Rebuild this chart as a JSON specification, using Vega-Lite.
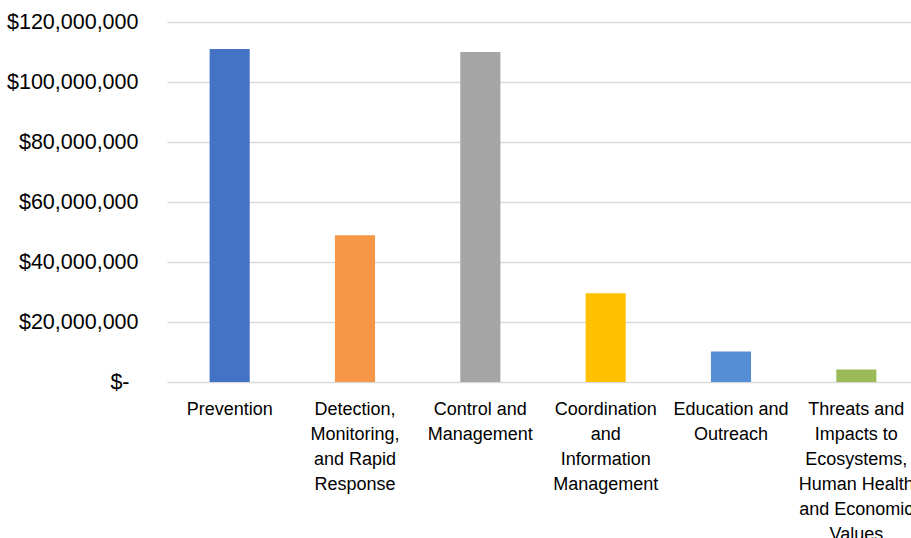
{
  "$schema": "https://vega.github.io/schema/vega-lite/v6.json",
  "autosize": "none",
  "width": 752,
  "height": 360,
  "padding": {"left": 167, "top": 22, "right": -8, "bottom": 156},
  "background": "#ffffff",
  "config": {"view": {"stroke": null}, "font": "Liberation Sans"},
  "data": {
    "values": [
      {"category": "Prevention", "amount": 111000000},
      {"category": "Detection, Monitoring, and Rapid Response", "amount": 48900000},
      {"category": "Control and Management", "amount": 110000000},
      {"category": "Coordination and Information Management", "amount": 29600000},
      {"category": "Education and Outreach", "amount": 10200000},
      {"category": "Threats and Impacts to Ecosystems, Human Health and Economic Values", "amount": 4200000}
    ]
  },
  "mark": {"type": "bar"},
  "encoding": {
    "x": {
      "field": "category",
      "type": "nominal",
      "sort": null,
      "scale": {"paddingInner": 0.68, "paddingOuter": 0.34},
      "axis": {
        "title": null,
        "domain": false,
        "ticks": false,
        "labelAngle": 0,
        "labelFontSize": 18,
        "labelColor": "#000000",
        "labelPadding": 18,
        "labelLineHeight": 25,
        "labelLimit": 300,
        "labelOverlap": false,
        "labelExpr": "datum.value == 'Detection, Monitoring, and Rapid Response' ? ['Detection,', 'Monitoring,', 'and Rapid', 'Response'] : datum.value == 'Control and Management' ? ['Control and', 'Management'] : datum.value == 'Coordination and Information Management' ? ['Coordination', 'and', 'Information', 'Management'] : datum.value == 'Education and Outreach' ? ['Education and', 'Outreach'] : datum.value == 'Prevention' ? 'Prevention' : ['Threats and', 'Impacts to', 'Ecosystems,', 'Human Health', 'and Economic', 'Values']"
      }
    },
    "y": {
      "field": "amount",
      "type": "quantitative",
      "scale": {"domain": [0, 120000000], "nice": false},
      "axis": {
        "title": null,
        "domain": false,
        "ticks": false,
        "values": [0, 20000000, 40000000, 60000000, 80000000, 100000000, 120000000],
        "grid": true,
        "gridColor": "#D9D9D9",
        "gridWidth": 1.5,
        "labelFontSize": 21.5,
        "labelColor": "#000000",
        "labelPadding": {"condition": {"test": "datum.value == 0", "value": 38}, "value": 29},
        "labelExpr": "datum.value == 0 ? '$-' : '$' + format(datum.value, ',.0f')"
      }
    },
    "color": {
      "field": "category",
      "type": "nominal",
      "sort": null,
      "legend": null,
      "scale": {
        "domain": [
          "Prevention",
          "Detection, Monitoring, and Rapid Response",
          "Control and Management",
          "Coordination and Information Management",
          "Education and Outreach",
          "Threats and Impacts to Ecosystems, Human Health and Economic Values"
        ],
        "range": ["#4472C4", "#F79646", "#A5A5A5", "#FFC000", "#558ED5", "#9BBB59"]
      }
    }
  }
}
